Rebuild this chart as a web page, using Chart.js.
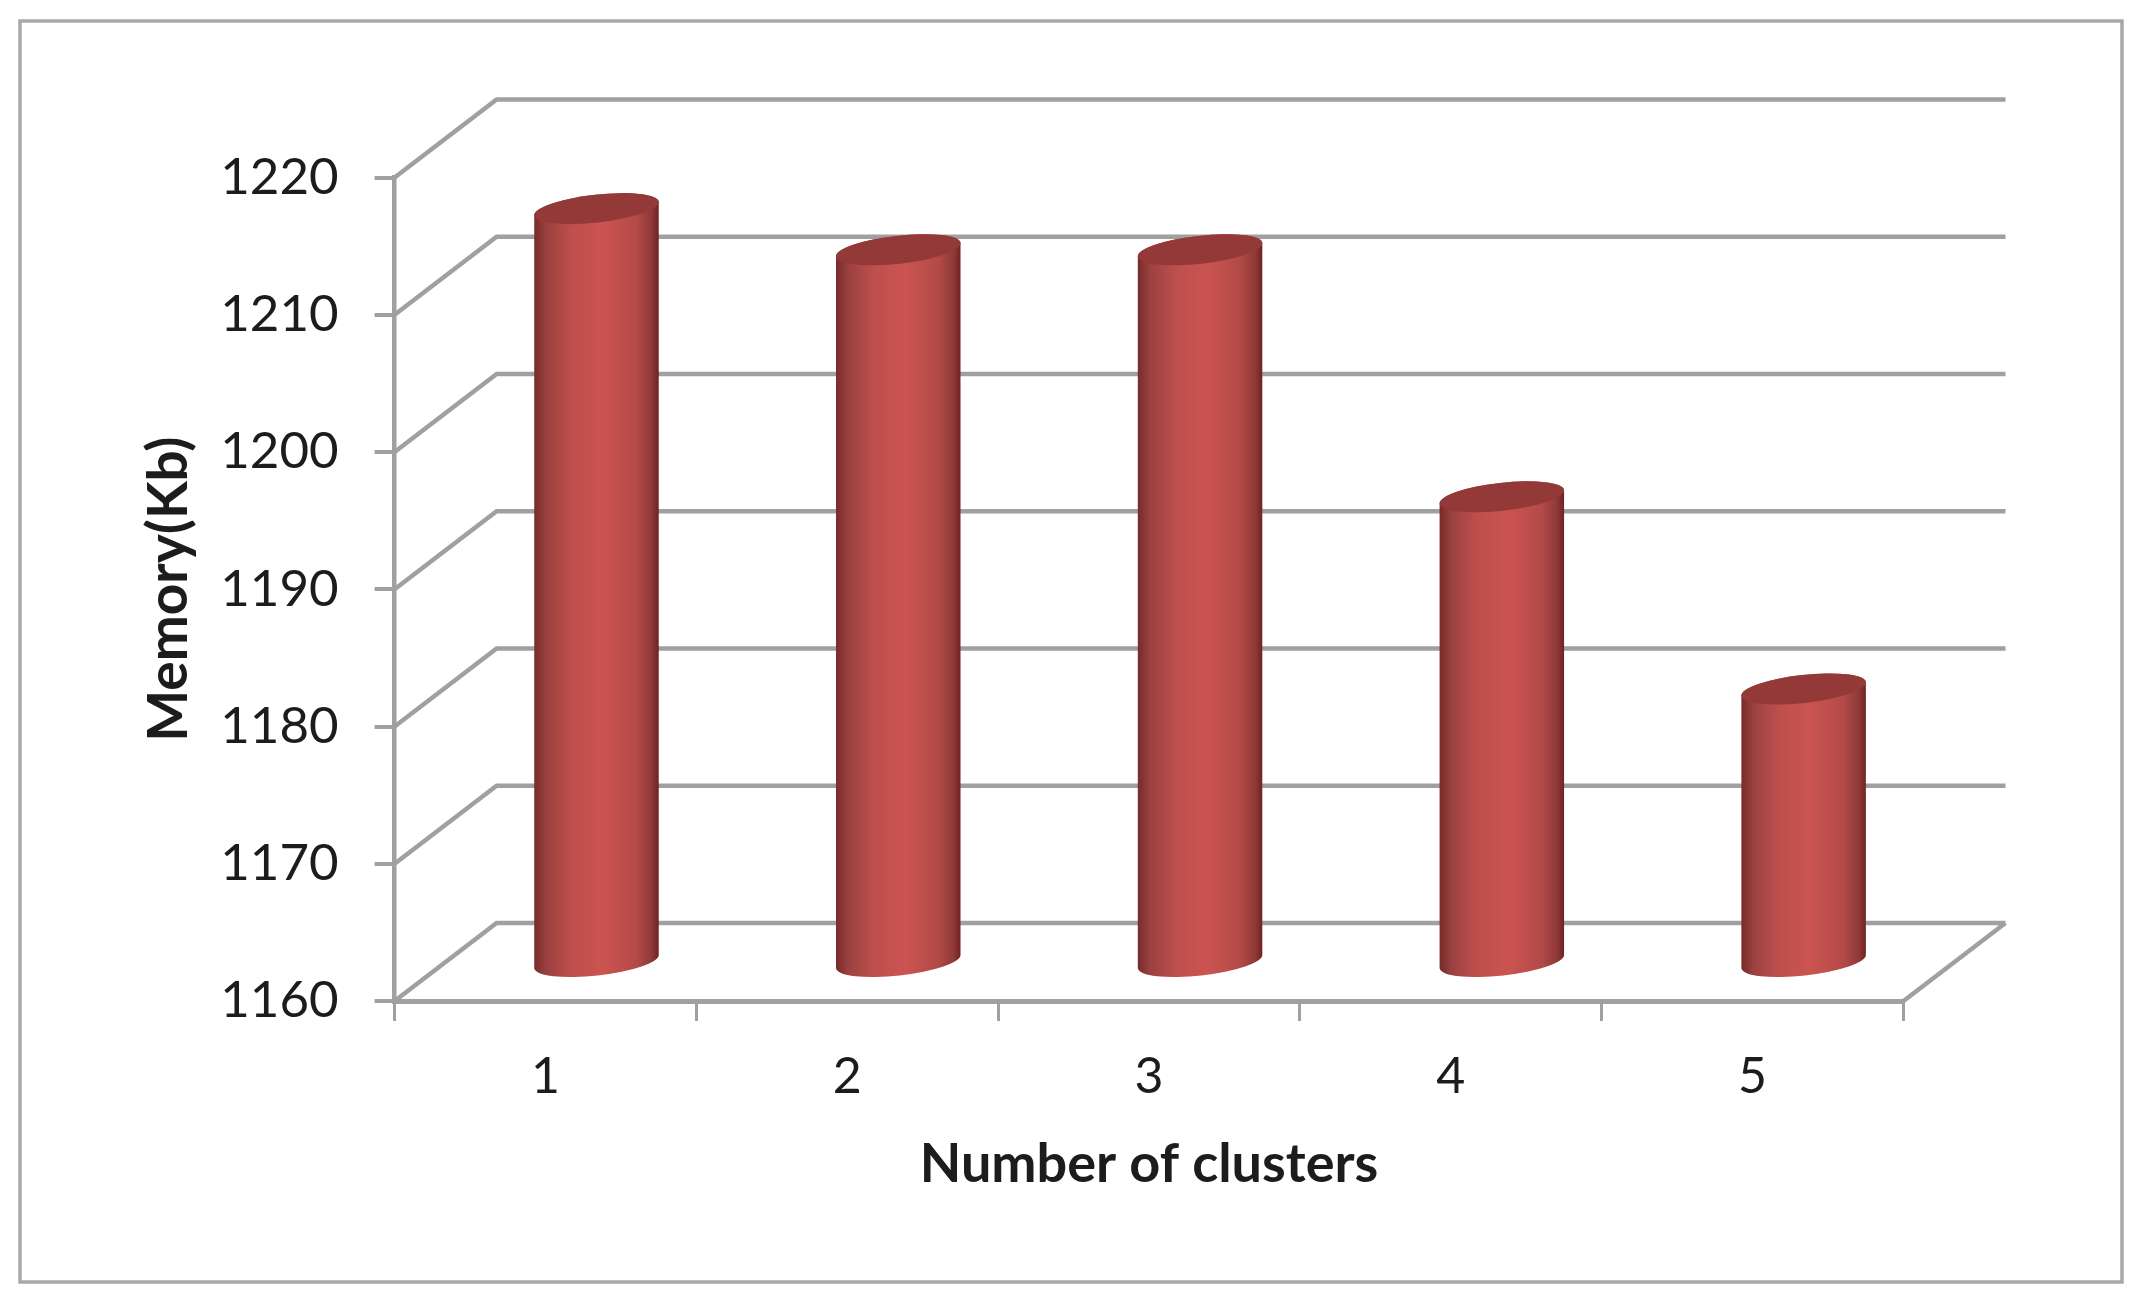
<!DOCTYPE html>
<html>
<head>
<meta charset="utf-8">
<title>Memory by number of clusters</title>
<script src="https://cdn.jsdelivr.net/npm/chart.js@4"></script>
<style>
  html, body { margin: 0; padding: 0; background: #fff; }
  canvas { display: block; }
</style>
</head>
<body>
<canvas id="chart" width="2141" height="1311"></canvas>
<script>
const clusters = ["1", "2", "3", "4", "5"];
const memory = [1215, 1212, 1212, 1194, 1180];
const yTicks = [1160, 1170, 1180, 1190, 1200, 1210, 1220];

const xTitle = "Number of clusters";
const yTitle = "Memory(Kb)";

const depthX = 102;
const depthY = 78;
const lineGrey = "#a0a0a0";
const textColor = "#1c1c1c";
const fontName = "Lato";

function barGradient(ctx, left, right) {
    const g = ctx.createLinearGradient(left, 0, right, 0);
    g.addColorStop(0, "#762a29");
    g.addColorStop(0.1, "#9a4140");
    g.addColorStop(0.3, "#bd4f4c");
    g.addColorStop(0.55, "#cb5451");
    g.addColorStop(0.82, "#b34a48");
    g.addColorStop(0.94, "#8f3a39");
    g.addColorStop(1, "#701f1f");
    return g;
}

// cylinder sits halfway into the floor depth
function drawCylinder(ctx, el) {
    const cx = el.x + depthX / 2;
    const topY = el.y - depthY / 2 + 1.5;
    const botY = el.base - depthY / 2 + 1.5;
    const rx = el.width / 2;
    const ry = 14;
    const tilt = -0.11;

    ctx.save();
    ctx.beginPath();
    ctx.ellipse(cx, topY, rx, ry, tilt, Math.PI, Math.PI * 2);
    ctx.ellipse(cx, botY, rx, ry, tilt, 0, Math.PI);
    ctx.closePath();
    ctx.fillStyle = barGradient(ctx, cx - rx, cx + rx);
    ctx.fill();

    ctx.beginPath();
    ctx.ellipse(cx, topY, rx, ry, tilt, 0, Math.PI * 2);
    ctx.fillStyle = "#933938";
    ctx.fill();
    ctx.restore();
}

class CylinderController extends Chart.BarController {
    draw() {
        const ctx = this.chart.ctx;
        this._cachedMeta.data.forEach(el => drawCylinder(ctx, el));
    }
}
CylinderController.id = "cylinder";
CylinderController.defaults = Chart.BarController.defaults;
CylinderController.overrides = Chart.BarController.overrides;
Chart.register(CylinderController);

// outer frame, back wall lines and floor edge
const wallPlugin = {
    id: "wall",
    beforeDatasetsDraw(chart) {
        const { ctx, scales, chartArea } = chart;
        const left = chartArea.left;
        const right = chartArea.right;

        ctx.save();
        ctx.strokeStyle = lineGrey;
        ctx.lineWidth = 4.5;
        ctx.beginPath();
        yTicks.forEach(v => {
            const y = scales.y.getPixelForValue(v);
            ctx.moveTo(left, y);
            ctx.lineTo(left + depthX, y - depthY);
            ctx.lineTo(right + depthX, y - depthY);
        });
        ctx.moveTo(right, chartArea.bottom);
        ctx.lineTo(right + depthX, chartArea.bottom - depthY);
        ctx.stroke();
        ctx.restore();
    },
    afterDraw(chart) {
        const ctx = chart.ctx;
        ctx.save();
        ctx.strokeStyle = "#a8a8a8";
        ctx.lineWidth = 3.5;
        ctx.strokeRect(20, 21, 2102, 1261);
        ctx.restore();
    }
};

new Chart(document.getElementById("chart"), {
    type: "cylinder",
    data: {
        labels: clusters,
        datasets: [{
            label: yTitle,
            data: memory,
            base: yTicks[0],
            clip: false,
            backgroundColor: "#c0504d",
            barPercentage: 0.415,
            categoryPercentage: 1
        }]
    },
    options: {
        responsive: false,
        animation: false,
        layout: { padding: { left: 136, right: 237.5, top: 177.5, bottom: 114 } },
        plugins: {
            legend: { display: false },
            title: { display: false },
            tooltip: { enabled: false }
        },
        scales: {
            x: {
                afterFit(scale) { scale.height = 196; },
                grid: { drawOnChartArea: false, color: lineGrey, lineWidth: 3, tickLength: 20 },
                border: { color: lineGrey, width: 5 },
                ticks: {
                    color: textColor,
                    padding: 26,
                    maxRotation: 0,
                    font: { family: fontName, size: 50 }
                },
                title: {
                    display: true,
                    text: xTitle,
                    color: textColor,
                    padding: { top: 0, bottom: 0 },
                    font: { family: fontName, size: 54, weight: "bold" }
                }
            },
            y: {
                min: 1160,
                max: 1220,
                afterFit(scale) { scale.width = 258.6; },
                afterBuildTicks(scale) { scale.ticks = yTicks.map(v => ({ value: v })); },
                grid: { drawOnChartArea: false, color: lineGrey, lineWidth: 4, tickLength: 20 },
                border: { color: lineGrey, width: 4.5 },
                ticks: {
                    color: textColor,
                    padding: 36,
                    callback: v => String(v),
                    font: { family: fontName, size: 51 }
                },
                title: {
                    display: true,
                    text: yTitle,
                    color: textColor,
                    padding: { top: 0, bottom: 0 },
                    font: { family: fontName, size: 55, weight: "bold" }
                }
            }
        }
    },
    plugins: [wallPlugin]
});
</script>
</body>
</html>
